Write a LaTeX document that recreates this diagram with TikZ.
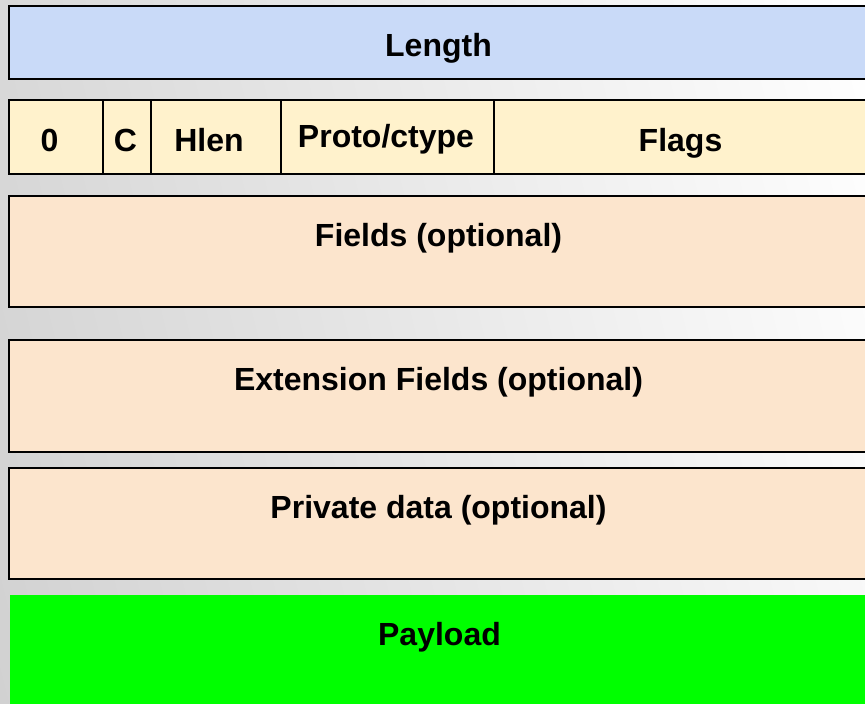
\documentclass[tikz,border=0pt]{standalone}
\usepackage{fontspec}
\setmainfont{Liberation Sans}
\usetikzlibrary{shadings}
\definecolor{lenblue}{HTML}{C9DAF8}
\definecolor{hdryellow}{HTML}{FFF2CC}
\definecolor{optpeach}{HTML}{FCE5CD}
\definecolor{paygreen}{HTML}{00FF00}
\tikzset{
  box/.style={draw=black, line width=1.5pt, anchor=north west, inner sep=0pt, outer sep=0pt},
  lbl/.style={font=\bfseries\fontsize{32}{32}\selectfont, anchor=base, inner sep=0pt},
}
\begin{document}
\begin{tikzpicture}[x=1pt,y=-1pt]
  \clip (0,0) rectangle (865,704);
  \shade[upper left=black!15, upper right=white, lower left=black!18, lower right=black!3] (0,0) rectangle (865,704);

  % length word
  \node[box, fill=lenblue, minimum width=859, minimum height=73] (len) at (9,6) {};
  \node[lbl] (lenlbl) at ([yshift=-50pt]len.north) {Length};

  % header word
  \node[box, fill=hdryellow, minimum width=94, minimum height=74] (zero) at (9,100) {};
  \node[box, fill=hdryellow, minimum width=48, minimum height=74] (cbit) at (zero.north east) {};
  \node[box, fill=hdryellow, minimum width=130, minimum height=74] (hlen) at (cbit.north east) {};
  \node[box, fill=hdryellow, minimum width=213, minimum height=74] (proto) at (hlen.north east) {};
  \node[box, fill=hdryellow, minimum width=374, minimum height=74] (flags) at (proto.north east) {};
  \node[lbl] (zerolbl) at ([xshift=-6.5pt, yshift=-51pt]zero.north) {0};
  \node[lbl] (cbitlbl) at ([xshift=-1.5pt, yshift=-51pt]cbit.north) {C};
  \node[lbl] (hlenlbl) at ([xshift=-7pt, yshift=-51pt]hlen.north) {Hlen};
  \node[lbl] (protolbl) at ([xshift=-1.5pt, yshift=-47pt]proto.north) {Proto/ctype};
  \node[lbl] (flagslbl) at ([xshift=-0.5pt, yshift=-51pt]flags.north) {Flags};

  % optional parts
  \node[box, fill=optpeach, minimum width=859, minimum height=111] (fields) at (9,196) {};
  \node[lbl] (fieldslbl) at ([yshift=-50pt]fields.north) {Fields (optional)};
  \node[box, fill=optpeach, minimum width=859, minimum height=112] (ext) at (9,340) {};
  \node[lbl] (extlbl) at ([yshift=-50pt]ext.north) {Extension Fields (optional)};
  \node[box, fill=optpeach, minimum width=859, minimum height=111] (priv) at (9,468) {};
  \node[lbl] (privlbl) at ([yshift=-50pt]priv.north) {Private data (optional)};

  % payload
  \node[box, draw=none, fill=paygreen, minimum width=859, minimum height=115] (pay) at (10,595) {};
  \node[lbl] (paylbl) at ([yshift=-50pt]pay.north) {Payload};
\end{tikzpicture}
\end{document}
